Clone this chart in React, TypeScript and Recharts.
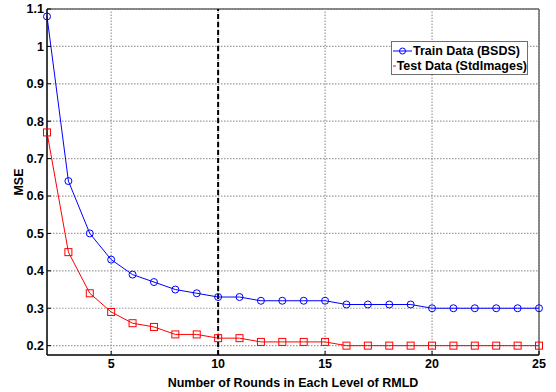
import { LineChart, Line, XAxis, YAxis, ReferenceLine, ReferenceArea, Legend } from 'recharts'

const rounds = [2, 3, 4, 5, 6, 7, 8, 9, 10, 11, 12, 13, 14, 15, 16, 17, 18, 19, 20, 21, 22, 23, 24, 25]
const trainMse = [1.08, 0.64, 0.5, 0.43, 0.39, 0.37, 0.35, 0.34, 0.33, 0.33, 0.32, 0.32, 0.32, 0.32, 0.31, 0.31, 0.31, 0.31, 0.3, 0.3, 0.3, 0.3, 0.3, 0.3]
const testMse = [0.77, 0.45, 0.34, 0.29, 0.26, 0.25, 0.23, 0.23, 0.22, 0.22, 0.21, 0.21, 0.21, 0.21, 0.2, 0.2, 0.2, 0.2, 0.2, 0.2, 0.2, 0.2, 0.2, 0.2]
const xTicks = [5, 10, 15, 20, 25]
const yTicks = [0.2, 0.3, 0.4, 0.5, 0.6, 0.7, 0.8, 0.9, 1, 1.1]

const data = rounds.map((r, i) => ({ r, train: trainMse[i], test: testMse[i] }))

const X_DOMAIN = [2, 25]
const Y_DOMAIN = [0.175, 1.1]

const FONT = '"Liberation Sans", Arial, sans-serif'
const tickStyle = { fill: '#000', fontSize: 12.5, fontWeight: 'bold', fontFamily: FONT }

const Square = (props: any) => {
  const { cx, cy } = props
  if (cx == null || cy == null) return null
  return <rect x={cx - 3.5} y={cy - 3.5} width={7} height={7} fill="none" stroke="#ff0000" strokeWidth={1} />
}

const LegendBox = () => (
  <div
    style={{
      width: 137,
      height: 34,
      border: '1px solid #6e6e6e',
      background: '#fff',
      fontFamily: FONT,
      fontWeight: 'bold',
      fontSize: 12.5,
      boxSizing: 'border-box',
      whiteSpace: 'nowrap',
      color: '#000',
      paddingTop: 1,
    }}
  >
    <div style={{ display: 'flex', alignItems: 'center', height: 15 }}>
      <svg width={19} height={10} style={{ marginLeft: 1 }}>
        <line x1={0} y1={5} x2={19} y2={5} stroke="#0000ff" />
        <circle cx={9.5} cy={5} r={3} fill="none" stroke="#0000ff" />
      </svg>
      <span style={{ marginLeft: 1 }}>Train Data (BSDS)</span>
    </div>
    <div style={{ display: 'flex', alignItems: 'center', height: 15 }}>
      <svg width={19} height={10} style={{ marginLeft: 1 }}>
        <line x1={0} y1={5} x2={19} y2={5} stroke="#ff0000" />
        <rect x={6.5} y={2} width={6} height={6} fill="none" stroke="#ff0000" />
      </svg>
      <span style={{ marginLeft: 1 }}>Test Data (StdImages)</span>
    </div>
  </div>
)

const App = () => {
  return (
    <div style={{ position: 'absolute', left: 0, top: 0, width: 556, height: 392, background: '#fff' }}>
      <LineChart width={556} height={392} data={data} margin={{ top: 9, right: 17, left: 0, bottom: 0 }}>
        {/* dotted grid */}
        {yTicks.map((v) => (
          <ReferenceLine key={`gy-${v}`} y={v} stroke="#9a9a9a" strokeWidth={1.2} strokeDasharray="1.5 1.5" />
        ))}
        {xTicks.map((v) => (
          <ReferenceLine key={`gx-${v}`} x={v} stroke="#9a9a9a" strokeWidth={1.2} strokeDasharray="1.5 1.5" />
        ))}
        <XAxis
          dataKey="r"
          type="number"
          domain={X_DOMAIN}
          ticks={xTicks}
          height={37}
          stroke="#000"
          tickSize={-4}
          tick={tickStyle}
          tickMargin={8}
          label={{ value: 'Number of Rounds in Each Level of RMLD', position: 'insideBottom', offset: 5, style: { ...tickStyle } }}
        />
        <YAxis
          type="number"
          domain={Y_DOMAIN}
          ticks={yTicks}
          width={47}
          stroke="#000"
          tickSize={-4}
          tick={tickStyle}
          tickMargin={7}
          allowDataOverflow
          label={{ value: 'MSE', angle: -90, position: 'insideLeft', offset: 19, style: { ...tickStyle, textAnchor: 'middle' } }}
        />
        <YAxis yAxisId="right" type="number" domain={Y_DOMAIN} ticks={yTicks} orientation="right" width={0} stroke="#000" tickFormatter={() => ''} tickSize={-4} allowDataOverflow />
        <XAxis xAxisId="top" dataKey="r" type="number" domain={X_DOMAIN} ticks={xTicks} orientation="top" height={0} stroke="#000" tickFormatter={() => ''} tickSize={-4} />
        <ReferenceArea x1={2} x2={25} y1={0.175} y2={1.1} fill="none" stroke="#000" strokeWidth={1} ifOverflow="visible" />
        <ReferenceLine x={10} stroke="#000" strokeWidth={2} strokeDasharray="5 3" />
        <Line
          dataKey="train"
          stroke="#0000ff"
          strokeWidth={1}
          dot={{ r: 3.5, fill: 'none', stroke: '#0000ff', strokeWidth: 1 }}
          isAnimationActive={false}
        />
        <Line dataKey="test" stroke="#ff0000" strokeWidth={1} dot={<Square />} isAnimationActive={false} />
        <Legend
          layout="vertical"
          align="center"
          verticalAlign="middle"
          content={() => <LegendBox />}
          wrapperStyle={{ position: 'absolute', left: 391, top: 41, width: 137, height: 34 }}
        />
      </LineChart>
    </div>
  )
}

export default App
